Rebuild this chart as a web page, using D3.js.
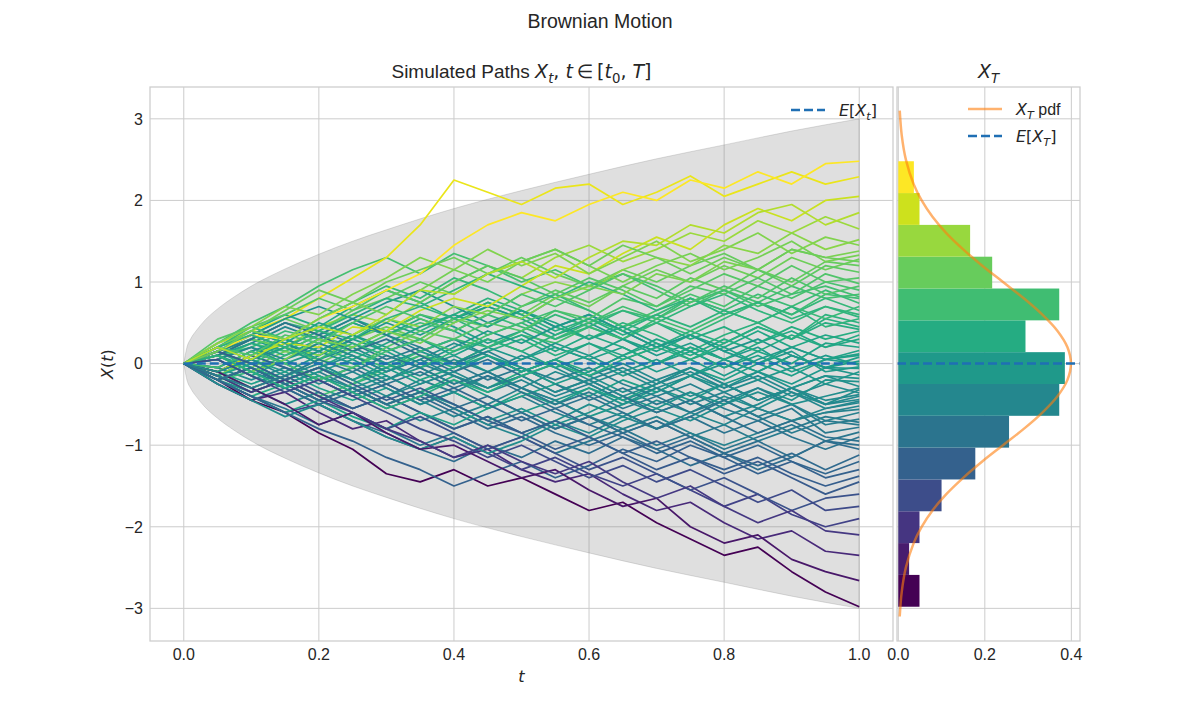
<!DOCTYPE html>
<html>
<head>
<meta charset="utf-8">
<script src="https://cdn.jsdelivr.net/npm/d3@7"></script>
<style>
  body { margin: 0; background: #fff; }
  svg { display: block; }
  text { fill: #262626; font-family: "Liberation Sans", Arial, sans-serif; }
</style>
</head>
<body>
<svg id="chart" width="1200" height="720"></svg>
<script>
// ---- data ----
const timeGrid = [0, 0.05, 0.1, 0.15, 0.2, 0.25, 0.3, 0.35, 0.4, 0.45, 0.5, 0.55, 0.6, 0.65, 0.7, 0.75, 0.8, 0.85, 0.9, 0.95, 1.0];

// simulated paths, one value per timeGrid point
const paths = [
  [0,0.15,0.3,0.15,0.35,0.55,0.4,0.6,0.45,0.25,0.4,0.2,0.05,0.2,0,0.15,-0.05,0.1,-0.1,0.05,0.12],
  [0,0.15,0,-0.2,-0.05,0.1,-0.1,0.05,0.25,0.1,-0.1,0.05,-0.15,-0.35,-0.2,-0.4,-0.25,-0.45,-0.3,-0.15,-0.28],
  [0,0.05,0.25,0.15,0.35,0.2,0.4,0.6,0.5,0.7,0.55,0.8,0.65,0.45,0.65,0.85,0.7,0.95,0.8,1,0.9],
  [0,-0.1,0.1,0.3,0.15,0.35,0.55,0.4,0.6,0.8,0.65,0.45,0.3,0.5,0.35,0.15,0.35,0.5,0.3,0.6,0.5],
  [0,-0.15,-0.35,-0.2,-0.4,-0.55,-0.4,-0.2,-0.35,-0.55,-0.4,-0.6,-0.75,-0.6,-0.8,-0.65,-0.45,-0.65,-0.5,-0.75,-0.68],
  [0,-0.1,-0.25,-0.1,-0.3,-0.45,-0.3,-0.5,-0.35,-0.55,-0.4,-0.25,-0.4,-0.2,-0.35,-0.15,0.05,-0.1,0.1,-0.05,0.08],
  [0,-0.2,-0.05,0.15,0.05,0.3,0.45,0.3,0.55,0.75,0.6,0.85,0.7,0.95,1.15,1,1.2,1.05,1.3,1.15,1.28],
  [0,-0.15,-0.3,-0.5,-0.35,-0.55,-0.4,-0.6,-0.8,-0.65,-0.85,-0.7,-0.5,-0.65,-0.45,-0.6,-0.4,-0.55,-0.35,-0.5,-0.32],
  [0,-0.25,-0.45,-0.3,-0.5,-0.7,-0.85,-1.05,-1.2,-1,-1.15,-0.95,-1.1,-0.9,-1.05,-1.25,-1.1,-1.3,-1.15,-0.95,-1.05],
  [0,0.25,0.5,0.7,0.95,1.15,1.3,1.1,1.35,1.2,1,1.15,0.95,1.1,0.9,0.7,0.9,0.75,0.95,0.8,0.85],
  [0,0.2,0.05,0.25,0.1,0.3,0.15,-0.05,0.1,-0.1,0.05,0.2,0.05,-0.15,0,0.2,0.05,-0.1,0.1,-0.05,0.03],
  [0,0.15,-0.05,-0.2,-0.05,-0.25,-0.1,0.1,-0.05,0.15,0.3,0.1,0.25,0.05,0.2,0.4,0.25,0.45,0.3,0.55,0.45],
  [0,0.2,0.4,0.25,0.05,0.2,0,-0.15,0.05,-0.1,0.1,-0.05,-0.25,-0.1,-0.3,-0.15,-0.35,-0.2,-0.4,-0.25,-0.36],
  [0,0.15,0.3,0.2,0.45,0.6,0.5,0.75,1,1.2,1.05,1.3,1.45,1.25,1.4,1.6,1.5,1.75,1.6,1.8,1.65],
  [0,-0.15,0.05,-0.1,0.1,0.3,0.5,0.35,0.55,0.7,0.55,0.35,0.5,0.3,0.1,0.25,0.05,0.2,-0.05,0.1,-0.02],
  [0,0.1,-0.1,-0.25,-0.1,-0.3,-0.5,-0.35,-0.55,-0.75,-0.6,-0.8,-0.65,-0.85,-0.7,-0.9,-0.75,-0.95,-0.8,-0.65,-0.72],
  [0,-0.15,-0.35,-0.2,-0.4,-0.25,-0.05,0.1,0,0.2,0.35,0.25,0.45,0.3,0.55,0.4,0.6,0.75,0.6,0.85,0.8],
  [0,-0.05,-0.2,-0.05,-0.25,-0.1,-0.3,-0.5,-0.35,-0.15,-0.3,-0.1,-0.25,-0.45,-0.6,-0.45,-0.65,-0.5,-0.3,-0.5,-0.4],
  [0,-0.2,-0.45,-0.6,-0.85,-1.05,-1.35,-1.45,-1.3,-1.5,-1.4,-1.6,-1.8,-1.7,-1.95,-2.15,-2.35,-2.25,-2.55,-2.8,-2.98],
  [0,0.25,0.4,0.6,0.45,0.7,0.9,0.75,0.55,0.75,0.6,0.4,0.55,0.35,0.5,0.3,0.45,0.25,0.45,0.3,0.4],
  [0,0.1,-0.05,-0.25,-0.1,0.05,-0.15,-0.35,-0.2,-0.4,-0.6,-0.45,-0.65,-0.5,-0.3,-0.45,-0.25,-0.1,-0.25,-0.05,-0.06],
  [0,0.15,0.35,0.55,0.4,0.65,0.8,1,0.85,1.1,1.3,1.1,0.95,1.15,1,1.2,1.35,1.15,1,1.25,1.2],
  [0,0.1,0.25,0.45,0.3,0.5,0.35,0.15,0.3,0.1,-0.1,0.05,-0.15,0,-0.2,-0.05,-0.25,-0.45,-0.3,-0.5,-0.44],
  [0,-0.1,-0.3,-0.15,-0.35,-0.55,-0.4,-0.6,-0.8,-0.65,-0.85,-1.05,-0.9,-1.1,-1.3,-1.15,-1.35,-1.2,-1.4,-1.6,-1.45],
  [0,0.1,0.2,0.4,0.3,0.15,0.35,0.5,0.4,0.6,0.45,0.3,0.5,0.65,0.55,0.8,0.65,0.85,0.7,0.9,0.74],
  [0,-0.2,-0.35,-0.2,-0.05,-0.2,0,0.15,0,0.2,0.05,0.25,0.1,-0.1,0.05,-0.15,0,-0.2,-0.05,-0.25,-0.1],
  [0,0.2,0.35,0.2,0.4,0.25,0.05,0.2,0,-0.2,-0.05,-0.25,-0.45,-0.3,-0.5,-0.35,-0.55,-0.7,-0.55,-0.85,-0.78],
  [0,-0.2,-0.4,-0.25,-0.45,-0.3,-0.5,-0.35,-0.15,-0.3,-0.1,0.05,-0.1,0.1,0.25,0.1,0.3,0.15,0.35,0.2,0.35],
  [0,0.25,0.4,0.55,0.8,1.05,1.3,1.7,2.25,2.1,1.95,2.15,2.2,1.95,2.1,2.3,2.05,2.2,2.35,2.2,2.29],
  [0,-0.2,-0.05,-0.25,-0.45,-0.3,-0.5,-0.7,-0.55,-0.75,-0.9,-0.7,-0.85,-0.65,-0.8,-0.6,-0.75,-0.55,-0.7,-0.55,-0.48],
  [0,0.15,0.35,0.55,0.7,0.55,0.75,0.9,0.7,0.5,0.65,0.45,0.6,0.4,0.2,0.35,0.15,0.3,0.1,-0.05,-0.14],
  [0,0.2,0.45,0.3,0.55,0.75,0.95,0.8,1.05,0.9,0.7,0.85,0.65,0.45,0.6,0.8,0.65,0.5,0.7,0.55,0.7],
  [0,0.05,-0.15,-0.3,-0.5,-0.35,-0.55,-0.4,-0.6,-0.8,-0.65,-0.85,-1,-0.85,-1.05,-0.9,-1.1,-1.25,-1.1,-1.3,-1.12],
  [0,0.1,0.3,0.2,0,0.2,0.4,0.3,0.55,0.45,0.7,0.9,0.75,0.95,0.8,1.05,0.9,1.15,0.95,1.2,1.12],
  [0,-0.05,0.15,0.3,0.15,0,-0.2,-0.05,-0.25,-0.1,-0.3,-0.45,-0.3,-0.5,-0.35,-0.15,-0.3,-0.1,-0.3,-0.15,-0.18],
  [0,0.05,-0.15,-0.3,-0.15,-0.35,-0.2,0,-0.15,-0.35,-0.2,-0.4,-0.25,-0.45,-0.3,-0.5,-0.35,-0.55,-0.7,-0.6,-0.52],
  [0,0.1,0.25,0.1,0.3,0.5,0.35,0.55,0.4,0.2,0.35,0.15,0.35,0.2,0,0.2,0.05,0.25,0.4,0.2,0.3],
  [0,-0.25,-0.45,-0.35,-0.6,-0.8,-0.7,-0.95,-1.15,-1.05,-1.3,-1.45,-1.35,-1.6,-1.8,-1.7,-1.95,-2.15,-2.05,-2.3,-2.35],
  [0,-0.15,0.05,0.2,0.1,0.35,0.55,0.45,0.7,0.6,0.85,1,0.9,1.15,1.3,1.2,1.45,1.35,1.6,1.4,1.52],
  [0,-0.2,-0.4,-0.55,-0.75,-0.6,-0.8,-1,-0.85,-1.05,-0.9,-1.1,-0.95,-0.8,-1,-0.85,-1.05,-0.9,-0.75,-0.95,-0.84],
  [0,0.1,-0.1,0.05,-0.15,-0.3,-0.15,-0.35,-0.5,-0.7,-0.55,-0.75,-0.6,-0.4,-0.55,-0.35,-0.5,-0.3,-0.45,-0.2,-0.22],
  [0,-0.2,-0.1,0.1,0.25,0.1,-0.05,0.15,0.3,0.2,0.4,0.6,0.45,0.3,0.5,0.35,0.55,0.75,0.6,0.8,0.65],
  [0,-0.1,0.1,-0.05,-0.2,-0.4,-0.25,-0.45,-0.65,-0.5,-0.3,-0.45,-0.65,-0.8,-0.65,-0.85,-1,-0.85,-0.7,-0.6,-0.56],
  [0,-0.2,-0.4,-0.6,-0.5,-0.7,-0.9,-1.05,-0.9,-1.1,-1.3,-1.15,-1.35,-1.5,-1.35,-1.55,-1.75,-1.6,-1.85,-2,-1.9],
  [0,0.05,-0.15,0.05,0.2,0.05,0.25,0.45,0.6,0.45,0.65,0.5,0.3,0.45,0.25,0.05,0.2,0.4,0.2,0.35,0.25],
  [0,0.3,0.45,0.6,0.8,0.65,0.9,0.75,1,1.2,1.05,0.85,1.05,0.9,0.7,0.9,1.1,0.95,1.2,1,1.05],
  [0,-0.2,-0.4,-0.6,-0.45,-0.65,-0.8,-0.6,-0.75,-0.55,-0.35,-0.5,-0.3,-0.45,-0.25,-0.05,-0.2,0,-0.15,0.05,0.1],
  [0,-0.1,0.1,-0.05,-0.2,-0.4,-0.25,-0.45,-0.3,-0.5,-0.7,-0.55,-0.75,-0.9,-1.1,-0.95,-1.15,-1,-1.2,-1.35,-1.2],
  [0,-0.1,0.1,0.25,0.2,0.45,0.4,0.65,0.8,0.7,0.95,1.2,1.1,1.35,1.55,1.4,1.7,1.9,1.75,2,2.05],
  [0,0.15,0.3,0.5,0.35,0.55,0.35,0.2,0,0.15,-0.05,-0.2,-0.05,-0.25,-0.4,-0.25,-0.45,-0.3,-0.5,-0.7,-0.6],
  [0,0.15,0,0.2,0.4,0.3,0.55,0.7,0.55,0.35,0.5,0.3,0.45,0.65,0.5,0.7,0.85,0.65,0.5,0.7,0.6],
  [0,-0.05,0.15,0,-0.2,-0.05,-0.25,-0.1,-0.3,-0.15,-0.35,-0.55,-0.4,-0.6,-0.8,-0.65,-0.85,-0.7,-0.9,-1.05,-0.9],
  [0,0.25,0.45,0.7,0.6,0.85,1.05,1.3,1.15,1.4,1.2,1.35,1.1,1.3,1.5,1.25,1.4,1.6,1.35,1.55,1.45],
  [0,0.05,0.2,0,0.15,0.35,0.2,0,0.2,0.4,0.25,0.45,0.6,0.4,0.2,0.35,0.15,0,0.15,-0.1,-0.04],
  [0,0.2,0.4,0.25,0.5,0.35,0.15,0.3,0.1,0.3,0.15,-0.05,0.1,0.3,0.15,0.35,0.2,0,0.2,0.05,0.16],
  [0,-0.2,-0.05,-0.25,-0.45,-0.6,-0.8,-0.65,-0.85,-1.05,-0.9,-1.1,-1.3,-1.15,-1.35,-1.55,-1.4,-1.6,-1.8,-1.65,-1.6],
  [0,-0.25,-0.45,-0.65,-0.5,-0.7,-0.9,-1.05,-0.9,-1.1,-0.95,-0.75,-0.9,-0.7,-0.55,-0.7,-0.5,-0.35,-0.5,-0.4,-0.3],
  [0,-0.1,-0.3,-0.15,0.05,-0.05,0.2,0.4,0.3,0.5,0.4,0.65,0.55,0.8,0.7,0.95,0.85,1.05,0.85,1.1,0.98],
  [0,0.1,0.3,0.5,0.4,0.6,0.8,0.7,0.9,1.1,0.95,0.8,1,0.85,0.65,0.8,0.6,0.75,0.55,0.7,0.57],
  [0,-0.2,-0.4,-0.6,-0.8,-0.95,-1.15,-1.3,-1.5,-1.35,-1.2,-1.4,-1.25,-1.05,-1.2,-1,-1.15,-1.35,-1.2,-1.4,-1.3],
  [0,-0.1,0.05,0.2,0,-0.2,-0.05,-0.25,-0.1,0.1,-0.05,-0.25,-0.1,0.1,-0.1,0.05,-0.15,0.05,0.2,0.05,0],
  [0,0.1,0.3,0.5,0.35,0.15,0.3,0.1,-0.1,0.05,-0.15,-0.35,-0.2,-0.4,-0.6,-0.45,-0.65,-0.85,-0.7,-0.9,-0.95],
  [0,0.15,0.35,0.3,0.55,0.7,0.9,1.1,1.45,1.7,1.85,1.75,1.95,2.1,2,2.25,2.15,2.35,2.2,2.45,2.48],
  [0,-0.15,0,-0.2,-0.05,0.15,0,-0.2,-0.05,0.1,-0.1,0.05,0.25,0.1,0.3,0.15,-0.05,0.15,0,0.25,0.2],
  [0,0.05,0.2,0.05,0.25,0.1,-0.1,0.05,-0.15,-0.3,-0.15,0,-0.2,-0.05,-0.25,-0.1,-0.3,-0.15,-0.35,-0.55,-0.46],
  [0,-0.1,-0.3,-0.5,-0.75,-0.6,-0.85,-1.05,-1,-1.2,-1.4,-1.3,-1.55,-1.75,-1.65,-2,-2.2,-2.1,-2.4,-2.55,-2.66],
  [0,0.1,-0.1,0.05,0.3,0.2,0.4,0.25,0.5,0.65,0.55,0.8,0.95,0.85,1.1,1,1.25,1.15,1.4,1.3,1.38],
  [0,-0.05,0.15,0,-0.2,-0.05,0.15,0.3,0.15,0.35,0.5,0.65,0.5,0.7,0.55,0.75,0.9,0.7,0.85,0.95,0.82],
  [0,0.2,0.1,0.35,0.25,0.5,0.7,0.55,0.4,0.6,0.85,0.7,0.9,1.1,0.95,0.75,0.95,0.8,1.05,0.85,0.95],
  [0,-0.2,-0.05,-0.25,-0.45,-0.3,-0.5,-0.35,-0.55,-0.4,-0.6,-0.8,-0.65,-0.85,-0.7,-0.9,-1.1,-0.95,-1.15,-0.95,-1],
  [0,-0.15,-0.35,-0.2,-0.4,-0.6,-0.8,-0.95,-1.15,-1,-1.2,-1.35,-1.2,-1.45,-1.65,-1.5,-1.75,-1.95,-1.8,-2.05,-2.1],
  [0,-0.1,0.05,-0.15,0,-0.2,-0.4,-0.25,-0.1,-0.3,-0.15,-0.35,-0.2,-0.4,-0.25,-0.05,-0.25,-0.45,-0.3,-0.45,-0.38],
  [0,0.1,-0.1,-0.3,-0.15,-0.35,-0.55,-0.4,-0.2,-0.35,-0.15,0,-0.15,0.05,0.2,0.05,0.25,0.45,0.3,0.5,0.42],
  [0,0.05,-0.15,-0.35,-0.2,-0.4,-0.6,-0.8,-0.95,-1.15,-1,-1.2,-1.4,-1.25,-1.45,-1.3,-1.5,-1.7,-1.55,-1.8,-1.75],
  [0,0.2,0.4,0.3,0.55,0.75,0.6,0.9,1.15,1,1.25,1.4,1.2,1,1.2,1.35,1.15,1.3,1.5,1.25,1.33],
  [0,0.2,0.35,0.2,0.05,0.25,0.1,-0.05,0.15,0.3,0.15,0.35,0.55,0.4,0.6,0.45,0.65,0.5,0.7,0.45,0.55],
  [0,0.15,0,-0.2,-0.05,-0.25,-0.45,-0.3,-0.5,-0.7,-0.85,-0.7,-0.9,-1.1,-0.95,-1.15,-1.3,-1.15,-1.35,-1.5,-1.38],
  [0,0.15,0.4,0.65,0.9,0.75,1,1.15,1.3,1.1,1.25,1.4,1.2,1.45,1.3,1.1,1.3,1.15,1.4,1.3,1.25],
  [0,-0.15,-0.3,-0.15,0.05,-0.1,0.1,-0.05,-0.25,-0.1,-0.3,-0.5,-0.35,-0.55,-0.4,-0.6,-0.45,-0.65,-0.85,-0.7,-0.75],
  [0,0.2,0.05,0.3,0.45,0.35,0.6,0.9,0.85,1.1,1.25,1.05,1.3,1.5,1.45,1.7,1.6,1.85,1.95,1.7,1.85]
];

// +/- 3 sigma envelope
const bandT = [0, 0.005, 0.01, 0.02, 0.03, 0.05, 0.075, 0.1, 0.15, 0.2, 0.25, 0.3, 0.4, 0.5, 0.6, 0.7, 0.8, 0.9, 1.0];
const bandHalf = [0, 0.21, 0.3, 0.42, 0.52, 0.67, 0.82, 0.95, 1.16, 1.34, 1.5, 1.64, 1.9, 2.12, 2.32, 2.51, 2.68, 2.85, 3.0];

// histogram of X_T (bin edges and density)
const histEdges = [-2.98, -2.59, -2.2, -1.81, -1.42, -1.03, -0.64, -0.25, 0.14, 0.53, 0.92, 1.31, 1.7, 2.09, 2.48];
const histDensity = [0.049, 0.025, 0.049, 0.1, 0.178, 0.256, 0.372, 0.385, 0.294, 0.372, 0.217, 0.166, 0.049, 0.036];

// X_T pdf curve
const pdfX = [-3.1, -2.8, -2.5, -2.2, -2.0, -1.8, -1.6, -1.4, -1.2, -1.0, -0.8, -0.6, -0.4, -0.2, 0, 0.2, 0.4, 0.6, 0.8, 1.0, 1.2, 1.4, 1.6, 1.8, 2.0, 2.2, 2.5, 2.8, 3.1];
const pdfY = [0.0033, 0.0079, 0.0175, 0.0355, 0.054, 0.079, 0.111, 0.15, 0.194, 0.242, 0.29, 0.333, 0.368, 0.391, 0.399, 0.391, 0.368, 0.333, 0.29, 0.242, 0.194, 0.15, 0.111, 0.079, 0.054, 0.0355, 0.0175, 0.0079, 0.0033];

const meanValue = 0;

const tTicks = [0, 0.2, 0.4, 0.6, 0.8, 1.0];
const xTicks = [-3, -2, -1, 0, 1, 2, 3];
const densTicks = [0, 0.2, 0.4];

// ---- layout ----
const svg = d3.select("#chart");
const plotTop = 87, plotBottom = 641;
const L = { x0: 150, x1: 893 };
const R = { x0: 897, x1: 1080 };
const gridCol = "#cccccc";
const meanCol = "#1f6fb4";
const tickSize = 16, titleSize = 19;

const tx = d3.scaleLinear().domain([-0.05, 1.05]).range([L.x0, L.x1]);
const y = d3.scaleLinear().domain([-3.4, 3.39]).range([plotBottom, plotTop]);
const dx = d3.scaleLinear().domain([-0.003, 0.42]).range([R.x0, R.x1]);

// small helper for mathtext-like labels
function rich(sel, parts, size) {
  let shift = 0;
  parts.forEach(p => {
    const ts = sel.append("tspan").text(p.t);
    const target = p.sub ? size * 0.24 : 0;
    if (target !== shift) { ts.attr("dy", target - shift); shift = target; }
    ts.style("font-size", (p.sub ? size * 0.7 : size) + "px");
    if (p.m) ts.style("font-family", "'DejaVu Sans'");
    if (p.i) ts.style("font-style", "italic");
  });
}

// ---- grids ----
function grid(xs, xScale, x0, x1) {
  const g = svg.append("g");
  g.selectAll(".gv").data(xs).join("line")
    .attr("x1", d => xScale(d)).attr("x2", d => xScale(d))
    .attr("y1", plotTop).attr("y2", plotBottom)
    .attr("stroke", gridCol).attr("stroke-width", 1);
  g.selectAll(".gh").data(xTicks).join("line")
    .attr("x1", x0).attr("x2", x1)
    .attr("y1", d => y(d)).attr("y2", d => y(d))
    .attr("stroke", gridCol).attr("stroke-width", 1);
}
grid(tTicks, tx, L.x0, L.x1);
grid(densTicks, dx, R.x0, R.x1);

// ---- left panel ----
const band = d3.area()
  .x((d, i) => tx(bandT[i]))
  .y0(d => y(-d)).y1(d => y(d))
  .curve(d3.curveMonotoneX);
svg.append("path").datum(bandHalf)
  .attr("d", band)
  .attr("fill", "#808080").attr("fill-opacity", 0.25)
  .attr("stroke", "#808080").attr("stroke-opacity", 0.25).attr("stroke-width", 1);

const finals = paths.map(p => p[p.length - 1]);
const col = d3.scaleSequential(d3.interpolateViridis).domain([d3.min(finals), d3.max(finals)]);
const pathLine = d3.line().x((d, i) => tx(timeGrid[i])).y(d => y(d));
svg.append("g").selectAll("path").data(paths).join("path")
  .attr("d", pathLine)
  .attr("fill", "none")
  .attr("stroke", d => col(d[d.length - 1]))
  .attr("stroke-width", 1.7)
  .attr("stroke-linejoin", "round");

svg.append("line")
  .attr("x1", tx(0)).attr("x2", tx(1))
  .attr("y1", y(meanValue)).attr("y2", y(meanValue))
  .attr("stroke", meanCol).attr("stroke-width", 2.5)
  .attr("stroke-dasharray", "9,4");

// ---- right panel ----
const hist = histDensity.map((d, i) => ({ lo: histEdges[i], hi: histEdges[i + 1], d, i }));
svg.append("g").selectAll("rect").data(hist).join("rect")
  .attr("x", dx(0))
  .attr("width", d => dx(d.d) - dx(0))
  .attr("y", d => y(d.hi))
  .attr("height", d => y(d.lo) - y(d.hi))
  .attr("fill", d => d3.interpolateViridis(d.i / (hist.length - 1)));

svg.append("path").datum(pdfY)
  .attr("d", d3.line().x(d => dx(d)).y((d, i) => y(pdfX[i])).curve(d3.curveCatmullRom))
  .attr("fill", "none")
  .attr("stroke", "#ff7f0e").attr("stroke-opacity", 0.6).attr("stroke-width", 2.5);

svg.append("line")
  .attr("x1", R.x0).attr("x2", R.x1)
  .attr("y1", y(meanValue)).attr("y2", y(meanValue))
  .attr("stroke", meanCol).attr("stroke-width", 2.5)
  .attr("stroke-dasharray", "9,4");

// ---- spines ----
[L, R].forEach(a => {
  svg.append("rect").attr("x", a.x0).attr("y", plotTop)
    .attr("width", a.x1 - a.x0).attr("height", plotBottom - plotTop)
    .attr("fill", "none").attr("stroke", gridCol).attr("stroke-width", 1.25);
});

// ---- tick labels ----
svg.append("g").selectAll("text").data(tTicks).join("text")
  .attr("x", d => tx(d)).attr("y", 660)
  .attr("text-anchor", "middle").style("font-size", tickSize + "px")
  .text(d => d3.format(".1f")(d));
svg.append("g").selectAll("text").data(xTicks).join("text")
  .attr("x", 143).attr("y", d => y(d) + 5.8)
  .attr("text-anchor", "end").style("font-size", tickSize + "px")
  .text(d => d < 0 ? "\u2212" + Math.abs(d) : d);
svg.append("g").selectAll("text").data(densTicks).join("text")
  .attr("x", d => dx(d)).attr("y", 660)
  .attr("text-anchor", "middle").style("font-size", tickSize + "px")
  .text(d => d3.format(".1f")(d));

// ---- axis labels ----
rich(svg.append("text").attr("x", (L.x0 + L.x1) / 2).attr("y", 682).attr("text-anchor", "middle"),
  [{ t: "t", m: 1, i: 1 }], tickSize);
rich(svg.append("text").attr("transform", "translate(113,364) rotate(-90)").attr("text-anchor", "middle"),
  [{ t: "X", m: 1, i: 1 }, { t: "(", m: 1 }, { t: "t", m: 1, i: 1 }, { t: ")", m: 1 }], tickSize);

// ---- titles ----
svg.append("text").attr("x", 600).attr("y", 28).attr("text-anchor", "middle")
  .style("font-size", "19.5px").text("Brownian Motion");
rich(svg.append("text").attr("x", (L.x0 + L.x1) / 2).attr("y", 78).attr("text-anchor", "middle"),
  [{ t: "Simulated Paths " }, { t: "X", m: 1, i: 1 }, { t: "t", m: 1, i: 1, sub: 1 }, { t: ", ", m: 1 },
   { t: "t", m: 1, i: 1 }, { t: "\u2009\u2208\u2009", m: 1 }, { t: "[", m: 1 }, { t: "t", m: 1, i: 1 }, { t: "0", m: 1, sub: 1 },
   { t: ", ", m: 1 }, { t: "T", m: 1, i: 1 }, { t: "]", m: 1 }], titleSize);
rich(svg.append("text").attr("x", (R.x0 + R.x1) / 2).attr("y", 78).attr("text-anchor", "middle"),
  [{ t: "X", m: 1, i: 1 }, { t: "T", m: 1, i: 1, sub: 1 }], titleSize);

// ---- legends ----
function legendRow(x, yy, stroke, dash, opacity, parts) {
  svg.append("line").attr("x1", x).attr("x2", x + 34).attr("y1", yy).attr("y2", yy)
    .attr("stroke", stroke).attr("stroke-width", 2.5)
    .attr("stroke-opacity", opacity).attr("stroke-dasharray", dash);
  rich(svg.append("text").attr("x", x + 48).attr("y", yy + 5.8), parts, tickSize);
}
legendRow(791, 110, meanCol, "9,4", 1,
  [{ t: "E", m: 1, i: 1 }, { t: "[", m: 1 }, { t: "X", m: 1, i: 1 }, { t: "t", m: 1, i: 1, sub: 1 }, { t: "]", m: 1 }]);
legendRow(968, 109, "#ff7f0e", null, 0.6,
  [{ t: "X", m: 1, i: 1 }, { t: "T", m: 1, i: 1, sub: 1 }, { t: " pdf" }]);
legendRow(968, 136, meanCol, "9,4", 1,
  [{ t: "E", m: 1, i: 1 }, { t: "[", m: 1 }, { t: "X", m: 1, i: 1 }, { t: "T", m: 1, i: 1, sub: 1 }, { t: "]", m: 1 }]);
</script>
</body>
</html>
